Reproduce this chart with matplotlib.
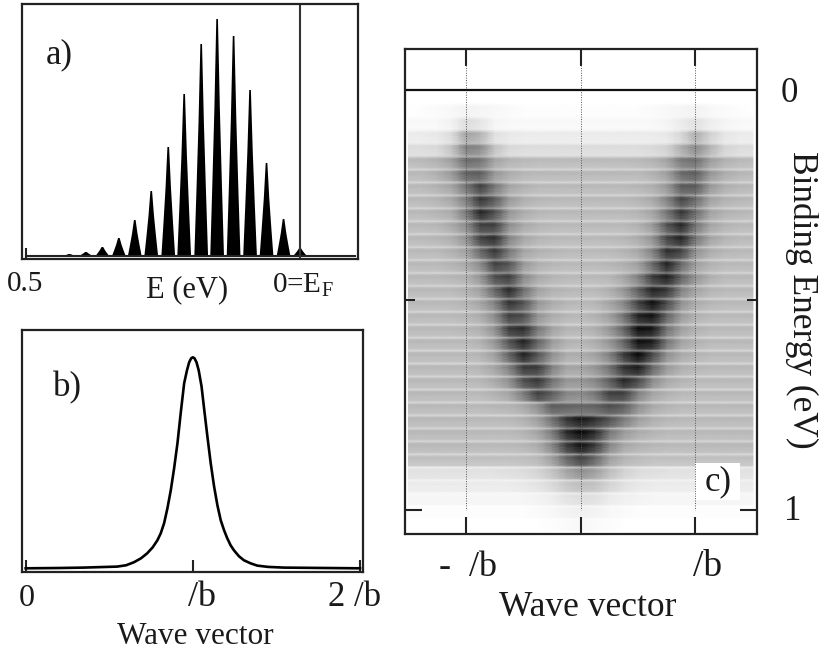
import numpy as np
import matplotlib
matplotlib.use("Agg")
import matplotlib.pyplot as plt

plt.rcParams['font.family'] = ['Liberation Serif', 'DejaVu Serif']
plt.rcParams['mathtext.fontset'] = 'custom'
plt.rcParams['mathtext.rm'] = 'Liberation Serif'

# panel a: peaks in the energy distribution
peak_energy = [0.0, 0.030, 0.061, 0.091, 0.121, 0.151, 0.180, 0.211, 0.240, 0.271, 0.301, 0.330, 0.360, 0.390, 0.420]
peak_height = [8, 37, 93, 166, 220, 237, 212, 162, 109, 65, 36, 18, 9, 4, 2]
peak_dx = [-1, -0.7, -0.4, -0.12, 0.12, 0.4, 0.7, 1]
peak_dy = [0, 0.3, 0.62, 1, 1, 0.62, 0.3, 0]

# panel b: momentum distribution
b_k = [0, 0.2, 0.347, 0.547, 0.6, 0.647, 0.69, 0.727, 0.76, 0.788, 0.808, 0.828, 0.848, 0.868, 0.888, 0.908, 0.928, 0.948,
       0.965, 0.978, 0.99, 1.0, 1.01, 1.022, 1.035, 1.052, 1.07, 1.087, 1.107, 1.127, 1.147, 1.167, 1.187, 1.206, 1.226,
       1.246, 1.276, 1.306, 1.345, 1.385, 1.45, 1.544, 1.8, 2]
b_i = [0, 0.3, 0.7, 1.7, 3, 6, 10, 15, 21, 28, 35, 45, 60, 78, 100, 125, 156, 185,
       198, 206, 210, 211, 210, 206, 198, 182, 156, 132, 105, 82, 63, 48, 38, 30, 23,
       18, 12, 8, 5, 2.7, 1.4, 0.7, 0.3, 0]

# panel c: darkness (0-100) per energy row, columns run along k_cols
k_cols = [-1.5, -1.375, -1.25, -1.125, -1, -0.875, -0.75, -0.625, -0.5, -0.375, -0.25, -0.125, 0,
          0.125, 0.25, 0.375, 0.5, 0.625, 0.75, 0.875, 1, 1.125, 1.25, 1.375, 1.5]
c_rows = [
    [0, 0, 0, 0, 0, 0, 0, 0, 0, 0, 0, 0, 0, 0, 0, 0, 0, 0, 0, 0, 0, 0, 0, 0, 0],
    [0, 1, 2, 3, 5, 4, 3, 2, 1, 1, 1, 1, 1, 1, 1, 1, 1, 2, 3, 4, 5, 3, 2, 1, 0],
    [3, 3, 3, 5, 14, 10, 4, 3, 3, 3, 3, 3, 3, 3, 3, 3, 3, 3, 4, 8, 12, 7, 4, 3, 3],
    [8, 8, 9, 14, 36, 30, 12, 9, 8, 8, 8, 8, 8, 8, 8, 8, 8, 8, 9, 16, 32, 18, 10, 8, 8],
    [14, 14, 15, 24, 50, 46, 24, 15, 14, 14, 14, 14, 14, 14, 14, 14, 14, 15, 18, 32, 46, 30, 17, 14, 14],
    [27, 28, 31, 38, 58, 55, 36, 30, 28, 27, 27, 27, 27, 27, 27, 27, 28, 30, 36, 53, 57, 39, 31, 28, 27],
    [28, 28, 32, 40, 62, 64, 41, 33, 29, 28, 28, 28, 28, 28, 28, 28, 28, 31, 38, 59, 64, 42, 33, 29, 28],
    [28, 28, 31, 36, 55, 76, 54, 36, 31, 28, 28, 28, 28, 28, 28, 28, 29, 32, 41, 65, 65, 41, 32, 29, 28],
    [28, 28, 30, 35, 51, 80, 65, 40, 32, 29, 28, 28, 28, 28, 28, 28, 30, 34, 49, 74, 58, 37, 31, 29, 28],
    [28, 28, 30, 33, 53, 86, 70, 42, 33, 29, 28, 28, 28, 28, 28, 28, 30, 36, 55, 80, 58, 37, 31, 29, 28],
    [28, 28, 29, 34, 45, 76, 76, 45, 34, 30, 28, 28, 28, 28, 28, 28, 31, 40, 68, 86, 55, 36, 30, 28, 28],
    [28, 28, 29, 32, 43, 75, 83, 49, 35, 30, 28, 28, 28, 28, 28, 29, 33, 43, 74, 87, 54, 36, 30, 28, 28],
    [28, 28, 28, 31, 37, 60, 80, 54, 36, 31, 29, 28, 28, 28, 28, 30, 35, 50, 83, 75, 43, 33, 29, 28, 28],
    [28, 28, 28, 30, 34, 46, 76, 68, 41, 32, 29, 28, 28, 28, 29, 32, 38, 60, 88, 60, 38, 31, 28, 28, 28],
    [28, 28, 28, 29, 31, 42, 70, 77, 47, 34, 30, 28, 28, 28, 29, 36, 50, 78, 89, 62, 42, 32, 28, 28, 28],
    [28, 28, 28, 28, 31, 38, 61, 85, 58, 37, 31, 29, 28, 28, 32, 42, 64, 88, 80, 50, 36, 30, 28, 28, 28],
    [28, 28, 28, 28, 30, 36, 50, 81, 69, 42, 33, 29, 28, 29, 36, 48, 76, 95, 72, 44, 33, 29, 28, 28, 28],
    [28, 28, 28, 28, 29, 33, 46, 76, 71, 43, 33, 29, 28, 31, 38, 56, 88, 94, 62, 40, 31, 28, 28, 28, 28],
    [28, 28, 28, 28, 29, 32, 44, 78, 84, 54, 37, 30, 29, 32, 42, 62, 96, 92, 56, 38, 31, 28, 28, 28, 28],
    [28, 28, 28, 28, 28, 31, 42, 68, 88, 62, 40, 31, 29, 33, 42, 62, 95, 90, 55, 37, 31, 28, 28, 28, 28],
    [28, 28, 28, 28, 28, 30, 38, 62, 88, 68, 44, 33, 33, 37, 50, 78, 98, 72, 44, 34, 30, 28, 28, 28, 28],
    [28, 28, 28, 28, 28, 30, 36, 50, 78, 78, 50, 36, 36, 42, 56, 82, 90, 60, 40, 32, 29, 28, 28, 28, 28],
    [28, 28, 28, 28, 28, 29, 34, 44, 70, 80, 56, 42, 42, 48, 64, 86, 72, 46, 34, 30, 28, 28, 28, 28, 28],
    [28, 28, 28, 28, 28, 28, 31, 36, 52, 76, 64, 48, 46, 54, 76, 76, 50, 36, 31, 28, 28, 28, 28, 28, 28],
    [28, 28, 28, 28, 28, 28, 29, 30, 34, 44, 64, 62, 60, 62, 70, 64, 44, 34, 30, 28, 28, 28, 28, 28, 28],
    [28, 28, 28, 28, 28, 28, 28, 28, 31, 38, 56, 80, 92, 82, 68, 52, 38, 32, 29, 28, 28, 28, 28, 28, 28],
    [28, 28, 28, 28, 28, 28, 28, 28, 30, 36, 52, 84, 98, 84, 54, 40, 33, 30, 28, 28, 28, 28, 28, 28, 28],
    [28, 28, 28, 28, 28, 28, 28, 28, 29, 33, 48, 78, 94, 78, 48, 35, 31, 29, 28, 28, 28, 28, 28, 28, 28],
    [25, 25, 25, 25, 25, 25, 25, 25, 26, 28, 38, 60, 75, 60, 38, 30, 27, 25, 25, 25, 25, 25, 25, 25, 25],
    [12, 12, 12, 12, 12, 12, 12, 13, 14, 17, 24, 36, 44, 38, 26, 18, 14, 13, 12, 12, 12, 12, 12, 12, 12],
    [8, 8, 8, 8, 8, 8, 8, 8, 9, 11, 15, 22, 26, 24, 17, 12, 9, 8, 8, 8, 8, 8, 8, 8, 8],
    [4, 4, 4, 4, 4, 4, 4, 4, 4, 5, 7, 11, 13, 12, 8, 6, 5, 4, 4, 4, 4, 4, 4, 4, 4],
    [1, 1, 1, 1, 1, 1, 1, 1, 1, 2, 3, 5, 6, 5, 3, 2, 1, 1, 1, 1, 1, 1, 1, 1, 1],
    [0, 0, 0, 0, 0, 0, 0, 0, 0, 0, 1, 2, 3, 2, 1, 0, 0, 0, 0, 0, 0, 0, 0, 0, 0],
]
# how the darkness runs inside one energy row (light line, dark band, fading)
row_shape = [0.55, 0.9, 1.0, 0.97, 0.92, 0.9, 0.88, 0.8]

W, H = 819, 654


def make_axes(x0, x1, y0, y1):
    ax = fig.add_axes([x0 / W, 1 - y1 / H, (x1 - x0) / W, (y1 - y0) / H])
    for s in ax.spines.values():
        s.set_linewidth(1.6)
        s.set_color("#222222")
    return ax


def label(x, y, s, size, ha="left", **kw):
    fig.text(x / W, 1 - y / H, s, fontsize=size, ha=ha, va="center", color="#1a1a1a", **kw)


fig = plt.figure(figsize=(W / 100, H / 100), dpi=100)

# a)
ax1 = make_axes(22, 358, 4, 259)
for e, h in zip(peak_energy, peak_height):
    xs = [e + 0.0125 * d for d in peak_dx]
    ys = [h * d for d in peak_dy]
    ax1.fill(xs, ys, color="black", lw=0)
ax1.plot([0.5, -0.1], [0, 0], color="#222222", lw=1.5)
ax1.axvline(0, color="#333333", lw=1.5)
ax1.set_xlim(0.5064, -0.1056)
ax1.set_ylim(-3, 252)
ax1.set_yticks([])
ax1.set_xticks([0.5])
ax1.set_xticklabels([])
ax1.tick_params(axis="x", direction="in", length=8, width=1.5, color="#222222")
label(46, 55, "a)", 25)
label(7, 284, "0.5", 21)
label(146, 290, "E (eV)", 22)
label(272, 285, "0=E$_{\\mathrm{F}}$", 21)

# b)
ax2 = make_axes(22, 363, 330, 572)
ax2.plot(b_k, b_i, color="black", lw=1.9)
ax2.set_xlim(-0.022, 2.018)
ax2.set_ylim(-3.7, 238.3)
ax2.set_yticks([])
ax2.set_xticks([0, 1, 2])
ax2.set_xticklabels([])
ax2.tick_params(axis="x", direction="in", length=9, width=1.5, color="#222222")
label(53, 388, "b)", 25)
label(19, 598, "0", 23)
label(202, 598, "/b", 26, ha="center")
label(328, 598, "2 /b", 25)
label(195, 637, "Wave vector", 22.5, ha="center")

# c)
ax3 = make_axes(405, 757, 49, 534)
row_e = np.linspace(0.005, 1.049, len(c_rows) * len(row_shape))
grid = np.repeat(np.array(c_rows, dtype=float), len(row_shape), axis=0)
grid = grid * np.tile(row_shape, len(c_rows))[:, None]
ax3.pcolormesh(k_cols, row_e, grid, shading="gouraud", cmap="gray_r", vmin=0, vmax=100)
for k in [-1, 0, 1]:
    ax3.plot([k, k], [-0.06, 1.0], color="#555555", lw=0.7, ls=(0, (1, 1.5)))
ax3.axhline(0, color="#111111", lw=1.6)
ax3.set_xlim(-1.53, 1.536)
ax3.set_ylim(1.057, -0.0976)
ax3.set_xticks([-1, 0, 1])
ax3.set_xticklabels([])
ax3.set_yticks([1])
ax3.set_yticklabels([])
ax3.set_yticks([0.5], minor=True)
ax3.tick_params(axis="both", which="major", direction="in", length=12, width=1.5, color="#222222",
                top=True, right=True)
ax3.tick_params(axis="y", which="minor", direction="in", length=7, width=1.5, color="#222222",
                left=True, right=True)
ax3.fill_between([1.0, 1.39], [0.889, 0.889], [0.976, 0.976], color="white", lw=0)
label(718, 482, "c)", 25, ha="center")
label(468, 567, "-  /b", 26, ha="center")
label(708, 567, "/b", 27, ha="center")
label(588, 607, "Wave vector", 25.5, ha="center")
label(789, 93, "0", 25, ha="center")
label(793, 512, "1", 25, ha="center")
fig.text(802 / W, 1 - 300 / H, "Binding Energy (eV)", fontsize=25.5, rotation=270,
         ha="center", va="center", color="#1a1a1a")

fig.savefig("out.png", dpi=100)
